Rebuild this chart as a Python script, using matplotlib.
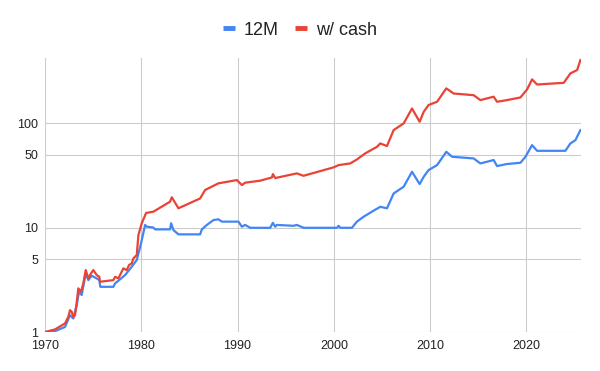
import matplotlib
matplotlib.use("Agg")
import matplotlib.pyplot as plt
from matplotlib.lines import Line2D
from matplotlib.ticker import FixedLocator, NullLocator

plt.rcParams['font.family'] = ['Liberation Sans', 'DejaVu Sans']

series_names = ["12M", "w/ cash"]

years_12m = [1970.0, 1971.04, 1972.08, 1972.6, 1972.94, 1973.3, 1973.53, 1973.81, 1974.23, 1974.5,
             1974.85, 1975.37, 1975.64, 1975.75, 1977.1, 1977.28, 1978.32, 1979.01, 1979.53, 1979.8,
             1980.05, 1980.4, 1980.57, 1981.26, 1981.43, 1982.99, 1983.1, 1983.34, 1983.86, 1986.11,
             1986.29, 1986.81, 1987.5, 1988.01, 1988.37, 1990.09, 1990.45, 1990.79, 1991.31, 1993.39,
             1993.67, 1993.91, 1994.09, 1995.81, 1996.16, 1996.85, 2000.32, 2000.49, 2000.67, 2001.88,
             2002.4, 2003.09, 2003.96, 2004.82, 2005.52, 2006.21, 2007.25, 2008.12, 2008.91, 2009.33,
             2009.84, 2010.72, 2011.68, 2012.28, 2014.52, 2015.22, 2016.6, 2016.95, 2017.99, 2019.38,
             2019.9, 2020.59, 2021.11, 2024.05, 2024.57, 2025.09, 2025.61]
values_12m = [1.0, 1.02, 1.12, 1.45, 1.35, 1.81, 2.43, 2.26, 3.65, 3.14,
              3.46, 3.26, 3.14, 2.71, 2.71, 2.92, 3.51, 4.22, 4.89, 6.09,
              7.59, 10.6, 10.2, 10.0, 9.61, 9.61, 11.0, 9.46, 8.61, 8.61,
              9.61, 10.6, 11.8, 12.0, 11.4, 11.4, 10.2, 10.6, 9.95, 9.95,
              11.1, 10.2, 10.6, 10.4, 10.6, 9.95, 9.95, 10.4, 9.95, 9.95,
              11.4, 12.7, 14.2, 15.8, 15.3, 21.2, 24.6, 34.2, 26.1, 30.6,
              35.5, 39.6, 53.1, 47.6, 45.9, 41.1, 44.3, 38.8, 40.6, 41.7,
              47.6, 61.5, 54.3, 54.3, 63.9, 68.7, 85.7]

years_cash = [1970.0, 1971.04, 1972.08, 1972.42, 1972.6, 1972.78, 1972.94, 1973.12, 1973.3, 1973.46,
              1973.74, 1973.98, 1974.23, 1974.5, 1974.78, 1975.02, 1975.37, 1975.64, 1975.72, 1977.1,
              1977.28, 1977.62, 1978.14, 1978.49, 1978.73, 1979.01, 1979.18, 1979.53, 1979.7, 1980.05,
              1980.5, 1981.26, 1982.99, 1983.17, 1983.86, 1986.11, 1986.63, 1988.01, 1989.93, 1990.45,
              1990.79, 1992.35, 1993.57, 1993.67, 1993.91, 1996.16, 1996.85, 1999.97, 2000.49, 2001.7,
              2002.4, 2003.26, 2004.48, 2004.82, 2005.52, 2006.21, 2007.25, 2008.12, 2008.91, 2009.33,
              2009.84, 2010.72, 2011.68, 2012.44, 2014.52, 2015.22, 2016.6, 2016.95, 2017.99, 2019.38,
              2020.07, 2020.59, 2021.11, 2023.88, 2024.57, 2025.27, 2025.61]
values_cash = [1.0, 1.06, 1.21, 1.40, 1.62, 1.56, 1.40, 1.45, 1.95, 2.62,
               2.43, 2.92, 3.92, 3.26, 3.65, 3.92, 3.51, 3.38, 3.03, 3.14,
               3.38, 3.26, 4.07, 3.92, 4.38, 4.54, 5.07, 5.46, 8.48, 11.0,
               13.8, 14.2, 17.7, 19.5, 15.3, 19.0, 22.9, 26.5, 28.5, 25.5,
               26.9, 28.1, 30.2, 32.5, 29.8, 33.0, 31.3, 37.7, 39.6, 41.1,
               44.9, 51.3, 59.3, 63.9, 60.3, 85.7, 99.3, 138, 103, 128,
               149, 160, 215, 192, 185, 166, 179, 160, 166, 176,
               210, 262, 234, 243, 299, 322, 401]

x_ticks = [1970, 1980, 1990, 2000, 2010, 2020]
y_ticks = [1, 5, 10, 50, 100]
y_tick_labels = ["1", "5", "10", "50", "100"]

blue = "#4285F4"
red = "#EA4335"

fig = plt.figure(figsize=(6, 3.71), dpi=100)
ax = fig.add_axes([0.075, 0.105, 0.893, 0.7387])

ax.plot(years_12m, values_12m, color=blue, lw=1.6, solid_joinstyle='round', zorder=3)
ax.plot(years_cash, values_cash, color=red, lw=1.6, solid_joinstyle='round', zorder=4)

ax.set_yscale('log')
ax.set_ylim(1, 420)
ax.set_xlim(1970, 2025.65)
ax.yaxis.set_major_locator(FixedLocator(y_ticks))
ax.yaxis.set_minor_locator(NullLocator())
ax.set_yticklabels(y_tick_labels)
ax.xaxis.set_major_locator(FixedLocator(x_ticks))
ax.xaxis.set_minor_locator(NullLocator())
ax.set_xticklabels([str(t) for t in x_ticks])

ax.grid(True, which='major', color='#cccccc', lw=0.8, zorder=0)
ax.set_axisbelow(True)
for s in ax.spines.values():
    s.set_visible(False)
ax.tick_params(axis='both', length=0, labelsize=9, colors='#222222')
ax.tick_params(axis='y', pad=5)
ax.tick_params(axis='x', pad=6)

handles = [Line2D([0], [0], color=blue, lw=3.5, solid_capstyle='butt'),
           Line2D([0], [0], color=red, lw=3.5, solid_capstyle='butt')]
leg = fig.legend(handles, series_names, loc='center', bbox_to_anchor=(0.5, 0.919),
                 ncol=2, frameon=False, fontsize=13, handlelength=0.65,
                 handletextpad=0.5, columnspacing=0.9, borderpad=0)
for t in leg.get_texts():
    t.set_color('#222222')

fig.savefig("out.png", dpi=100, facecolor='white')
